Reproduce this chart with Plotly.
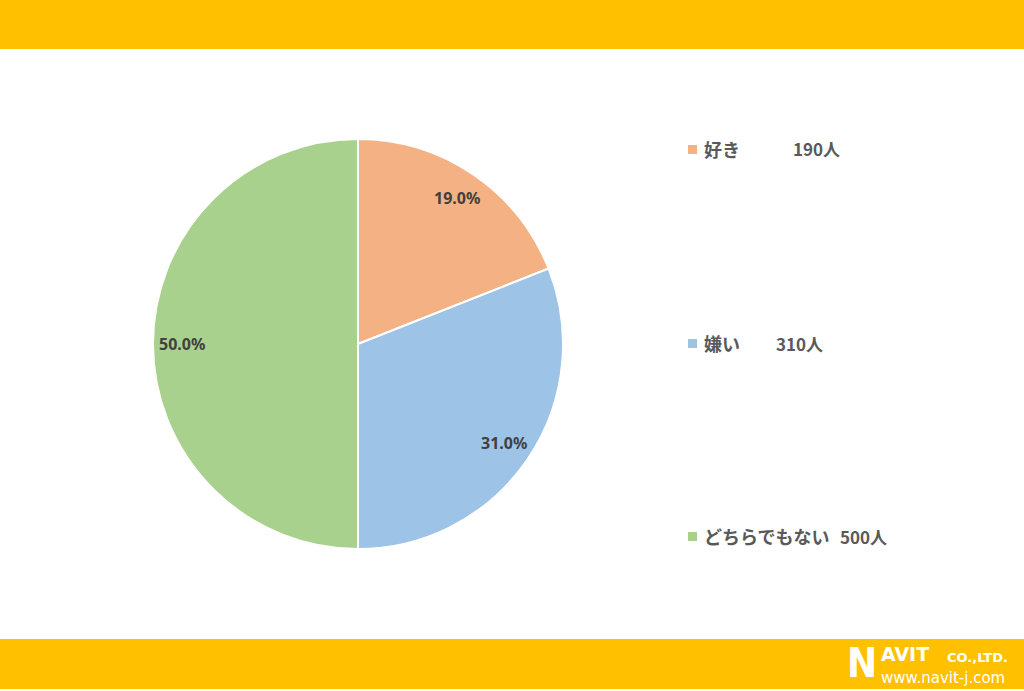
import math
import plotly.graph_objects as go

# ---- data ----
categories = ["好き", "嫌い", "どちらでもない"]
counts = [190, 310, 500]
colors = ["#F4B183", "#9DC3E6", "#A9D18E"]
count_suffix = "人"

W, H = 1024, 691
def px(x):
    return x / W
def py(y):
    return 1 - y / H

# pie geometry (pixels)
cx, cy, R = 358, 344, 205

fig = go.Figure()
fig.add_trace(go.Pie(
    labels=categories, values=counts, sort=False, direction="clockwise", rotation=0,
    marker=dict(colors=colors, line=dict(color="white", width=2)),
    textinfo="none", hoverinfo="none", showlegend=False,
    domain=dict(x=[px(cx - R), px(cx + R)], y=[py(cy + R), py(cy - R)]),
))

shapes = [
    dict(type="rect", xref="paper", yref="paper", x0=0, x1=1, y0=py(49), y1=1,
         fillcolor="#FFC000", line=dict(width=0), layer="below"),
    dict(type="rect", xref="paper", yref="paper", x0=0, x1=1, y0=py(689), y1=py(639),
         fillcolor="#FFC000", line=dict(width=0), layer="below"),
]
annotations = []

# percentage labels, placed near the outer end of each slice
total = sum(counts)
cum = 0
for v in counts:
    mid = (cum + v / 2) / total * 2 * math.pi
    cum += v
    r = 0.86 * R
    x = cx + r * math.sin(mid)
    y = cy - r * math.cos(mid)
    annotations.append(dict(
        x=px(x), y=py(y), xref="paper", yref="paper", showarrow=False,
        text=f"{v / total * 100:.1f}%", xanchor="center", yanchor="middle",
        font=dict(family="Noto Sans, DejaVu Sans", size=16, color="#404040", weight="bold"),
    ))

# legend (custom)
legend_y = [149, 343, 536]
count_x = [791, 774, 838]
for cat, v, col, ly, cxp in zip(categories, counts, colors, legend_y, count_x):
    shapes.append(dict(type="rect", xref="paper", yref="paper",
                       x0=px(688), x1=px(697), y0=py(ly + 5), y1=py(ly - 4),
                       fillcolor=col, line=dict(width=0)))
    annotations.append(dict(
        x=px(702), y=py(ly), xref="paper", yref="paper", showarrow=False,
        text=cat, xanchor="left", yanchor="middle",
        font=dict(family="Noto Sans CJK JP", size=18, color="#595959", weight="bold"),
    ))
    annotations.append(dict(
        x=px(cxp), y=py(ly), xref="paper", yref="paper", showarrow=False,
        text=f"{v}{count_suffix}", xanchor="left", yanchor="middle",
        font=dict(family="Noto Sans CJK JP", size=17, color="#595959", weight="bold"),
    ))

# logo
annotations += [
    dict(x=px(845), y=py(663), xref="paper", yref="paper", showarrow=False, text="N",
         xanchor="left", yanchor="middle",
         font=dict(family="DejaVu Sans Condensed, DejaVu Sans", size=40, color="white", weight="bold")),
    dict(x=px(879), y=py(654), xref="paper", yref="paper", showarrow=False, text="AVIT",
         xanchor="left", yanchor="middle",
         font=dict(family="DejaVu Sans", size=19, color="white", weight="bold")),
    dict(x=px(945), y=py(657), xref="paper", yref="paper", showarrow=False, text="CO.,LTD.",
         xanchor="left", yanchor="middle",
         font=dict(family="DejaVu Sans", size=13, color="white", weight="bold")),
    dict(x=px(879), y=py(678), xref="paper", yref="paper", showarrow=False, text="www.navit-j.com",
         xanchor="left", yanchor="middle",
         font=dict(family="DejaVu Sans", size=15, color="white")),
]

fig.update_layout(
    width=W, height=H, margin=dict(l=0, r=0, t=0, b=0),
    paper_bgcolor="white", plot_bgcolor="white",
    shapes=shapes, annotations=annotations,
)
fig.write_html("out.html", config={"displayModeBar": False},
               post_script="document.body.style.margin='0';document.body.style.overflow='hidden';")
